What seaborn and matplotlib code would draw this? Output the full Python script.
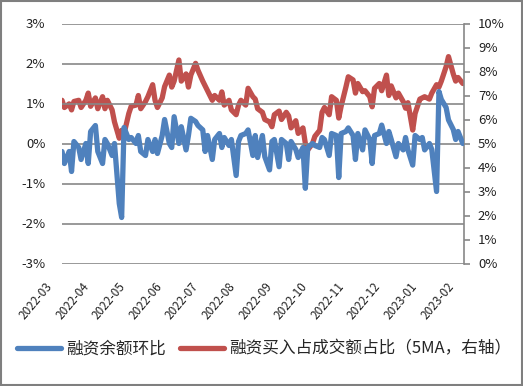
import pandas as pd
import numpy as np
import matplotlib
matplotlib.use("Agg")
import matplotlib.pyplot as plt
import matplotlib.dates as mdates
import matplotlib.transforms as mtransforms
from matplotlib.ticker import FuncFormatter, MultipleLocator
import seaborn as sns

# every second trading day, 2022-03-01 .. 2023-01-31
dates = pd.bdate_range("2022-03-01", periods=241)[::2]

# 融资余额环比 (%), left axis
balance_chg = [
    -0.2, -0.5, -0.2, -0.7, 0.05, -0.1, -0.4, 0.0, -0.5, 0.3,
    0.45, -0.2, -0.5, 0.1, 0.0, -0.3, 0.0, -1.5, -1.85, 0.4,
    0.1, 0.15, 0.0, 0.2, -0.2, -0.3, 0.1, -0.2, 0.1, -0.25,
    0.2, 0.6, 0.0, -0.1, 0.67, 0.0, 0.42, -0.16, 0.2, 0.63,
    0.55, 0.45, 0.34, -0.2, 0.2, -0.4, 0.1, 0.25, -0.1, 0.15,
    -0.05, 0.1, -0.8, 0.05, 0.2, 0.25, 0.34, -0.3, 0.2, -0.35,
    0.2, -0.33, -0.66, 0.05, 0.1, -0.58, 0.1, 0.0, -0.4, 0.05,
    -0.15, -0.35, -0.1, -1.12, -0.1, 0.0, -0.05, -0.1, 0.15, 0.1,
    -0.3, 0.25, 0.2, -0.85, 0.25, 0.3, 0.39, 0.2, -0.4, 0.25,
    -0.16, 0.34, 0.1, -0.5, 0.2, 0.25, 0.46, 0.0, 0.3, 0.1,
    -0.33, 0.0, -0.16, 0.15, -0.16, -0.54, 0.2, 0.1, 0.15, -0.16,
    0.0, -0.15, -1.2, 1.3, 1.1, 0.9, 0.59, 0.35, 0.1, 0.3,
    0.0,
]

# 融资买入占成交额占比 (5MA, %), right axis
buy_share = [
    6.8, 6.5, 6.65, 6.4, 6.75, 6.8, 6.5, 6.8, 7.1, 6.55,
    6.9, 6.45, 6.95, 6.45, 6.8, 6.4, 5.9, 5.22, 5.55, 5.4,
    6.25, 6.55, 6.6, 7.0, 6.45, 6.75, 6.95, 7.45, 6.8, 6.5,
    6.9, 7.37, 7.85, 7.35, 7.6, 8.48, 7.6, 7.9, 7.35, 7.85,
    8.34, 8.05, 7.6, 7.4, 7.2, 6.8, 7.0, 6.8, 7.15, 6.6,
    6.8, 6.4, 6.2, 6.6, 6.8, 6.6, 7.3, 6.95, 6.85, 6.45,
    6.3, 6.0, 5.9, 5.7, 6.2, 6.35, 6.0, 6.3, 6.15, 5.65,
    5.95, 5.42, 5.65, 5.0, 4.73, 5.0, 5.3, 5.55, 6.3, 6.5,
    6.2, 6.95, 6.8, 6.06, 6.55, 7.35, 7.78, 7.65, 7.1, 7.5,
    7.16, 7.2, 6.95, 6.53, 7.3, 7.5, 7.2, 7.85, 7.0, 7.4,
    6.9, 7.1, 6.75, 6.47, 6.7, 5.56, 6.25, 6.85, 6.9, 6.95,
    6.85, 7.1, 7.45, 7.35, 7.6, 8.2, 8.62, 7.9, 7.6, 7.75,
    7.5,
]

label_left = "融资余额环比"
label_right = "融资买入占成交额占比（5MA，右轴）"

df = pd.DataFrame({"date": dates, "left": balance_chg, "right": buy_share})

sns.set_style("white")
plt.rcParams["font.family"] = ["Noto Sans CJK SC", "DejaVu Sans"]

blue = "#4F81BD"
red = "#C0504D"
grid_c = "#878787"

fig = plt.figure(figsize=(5.23, 3.86), dpi=100)
ax = fig.add_axes([62 / 523, 1 - 263.5 / 386, (464 - 62) / 523, 240 / 386])
ax2 = ax.twinx()

sns.lineplot(data=df, x="date", y="left", ax=ax, color=blue, linewidth=3.4,
             label=label_left, legend=False)
sns.lineplot(data=df, x="date", y="right", ax=ax2, color=red, linewidth=3.4,
             label=label_right, legend=False)
ax.set_zorder(ax2.get_zorder() + 1)
ax.patch.set_visible(False)

ax.set_ylim(-3, 3)
ax2.set_ylim(0, 10)
ax.set_xlim(pd.Timestamp("2022-03-01"), pd.Timestamp("2023-02-01"))
ax.yaxis.set_major_locator(MultipleLocator(1))
ax2.yaxis.set_major_locator(MultipleLocator(1))
ax.yaxis.set_major_formatter(FuncFormatter(lambda v, p: f"{v:.0f}%"))
ax2.yaxis.set_major_formatter(FuncFormatter(lambda v, p: f"{v:.0f}%"))
ax.grid(axis="y", color=grid_c, linewidth=1.2)
ax.set_axisbelow(True)

ax.xaxis.set_major_locator(mdates.MonthLocator())
ax.xaxis.set_major_formatter(mdates.DateFormatter("%Y-%m"))
ax.set_xlabel("")
ax.set_ylabel("")
ax2.set_ylabel("")
ax.tick_params(axis="x", length=0, labelsize=8.5, colors="#222222", pad=15)
ax.tick_params(axis="y", length=0, labelsize=9.5, colors="#222222", pad=12)
ax2.tick_params(axis="y", length=4, width=1.2, color=grid_c, direction="out",
                labelsize=9.5, colors="#222222", pad=6)

offset = mtransforms.ScaledTranslation(-12 / 100, 0, fig.dpi_scale_trans)
for lab in ax.get_xticklabels():
    lab.set_rotation(50)
    lab.set_ha("right")
    lab.set_va("center")
    lab.set_rotation_mode("anchor")
    lab.set_transform(lab.get_transform() + offset)

for a in (ax, ax2):
    for s in ("top", "left"):
        a.spines[s].set_visible(False)
ax.spines["right"].set_visible(False)
ax.spines["bottom"].set_visible(False)
ax2.spines["bottom"].set_visible(False)
ax2.spines["right"].set_color(grid_c)
ax2.spines["right"].set_linewidth(1.2)

h1, l1 = ax.get_legend_handles_labels()
h2, l2 = ax2.get_legend_handles_labels()
for h in h1 + h2:
    h.set_linewidth(3.8)
fig.legend(h1 + h2, l1 + l2, loc="center", bbox_to_anchor=(0.505, 1 - 349 / 386),
           ncol=2, frameon=False, fontsize=12, handlelength=2.6,
           handletextpad=0.3, columnspacing=0.9)

fig.add_artist(plt.Rectangle((0.002, 0.002), 0.996, 0.996, transform=fig.transFigure,
                             fill=False, edgecolor="#7f7f7f", linewidth=1.5))

fig.savefig("out.png", dpi=100)
